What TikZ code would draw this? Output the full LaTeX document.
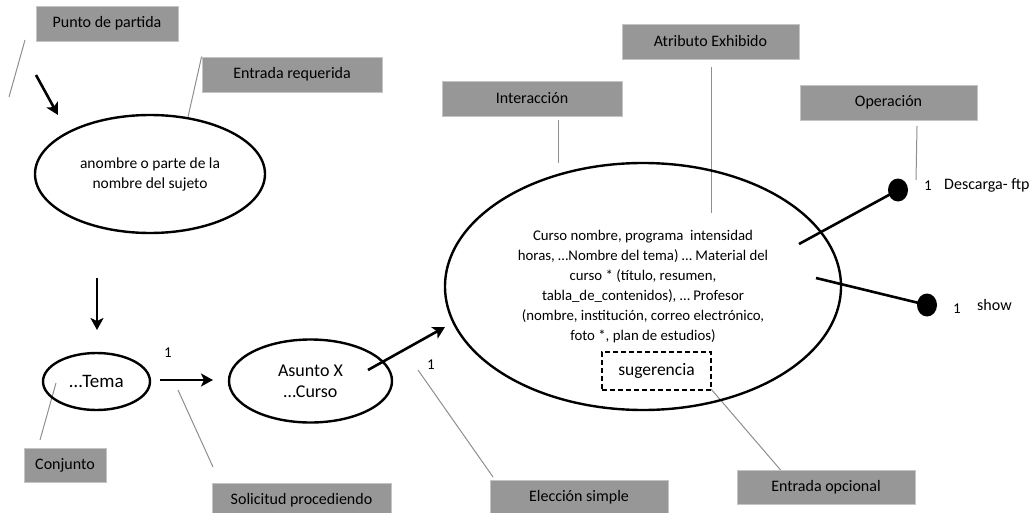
\documentclass[tikz,border=0pt]{standalone}
\usepackage{fontspec}
\setmainfont{Carlito}
\usetikzlibrary{shapes.geometric,arrows.meta}
\definecolor{labelgray}{HTML}{979797}
\definecolor{labeledge}{HTML}{C4C4C4}
\definecolor{leader}{HTML}{8E8E8E}
\tikzset{
  tag/.style={rectangle, fill=labelgray, draw=labeledge, line width=0.8pt,
    minimum height=35pt, inner sep=0pt, text=black,
    font=\fontsize{16}{18}\selectfont},
  bubble/.style={ellipse, draw=black, line width=2.4pt, inner sep=0pt, align=center},
  leaderline/.style={draw=leader, line width=1pt},
  flow/.style={draw=black, line width=2.6pt, -{Stealth[length=12pt,width=13pt,inset=3pt]}},
  link/.style={draw=black, line width=2.6pt},
  dot/.style={ellipse, fill=black, minimum width=20pt, minimum height=23pt, inner sep=0pt},
  num/.style={font=\fontsize{15}{17}\selectfont, inner sep=0pt},
  side/.style={font=\fontsize{16}{18}\selectfont, inner sep=0pt, anchor=west},
}
\begin{document}
\begin{tikzpicture}[x=1pt,y=-1pt]
\useasboundingbox (0,0) rectangle (1032,513);

% label boxes
\node[tag, minimum width=142pt] (punto)   at (107,23.5)  {Punto de partida};
\node[tag, minimum width=180pt] (entreq)  at (292,74.5)  {Entrada requerida};
\node[tag, minimum width=177pt] (atrib)   at (710.5,41.5) {Atributo Exhibido};
\node[tag, minimum width=180pt] (interac) at (532,98.5)  {Interacción};
\node[tag, minimum width=177pt] (operac)  at (888.5,102.5) {Operación};
\node[tag, minimum width=82pt, minimum height=34pt]  (conj)   at (65,465)    {Conjunto};
\node[tag, minimum width=179pt, minimum height=34pt] (solic)  at (301.5,500) {Solicitud procediendo};
\node[tag, minimum width=178pt, minimum height=34pt] (elecc)  at (579,497)   {Elección simple};

% leader line points
\coordinate (pa) at (9,97);     \coordinate (pb) at (25,40);
\coordinate (ra) at (188,117);
\coordinate (ia) at (558,120);  \coordinate (ib) at (558,163);
\coordinate (aa) at (711,67);   \coordinate (ab) at (711,213);
\coordinate (oa) at (917,126);  \coordinate (ob) at (916,180);
\coordinate (ca) at (56,383);   \coordinate (cb) at (40,440);
\coordinate (sa) at (178,390);  \coordinate (sb) at (213,467);
\coordinate (ea) at (418,370);  \coordinate (eb) at (493,477);
\coordinate (qa) at (711,389);  \coordinate (qb) at (784,474);

\draw[leaderline] (pa) -- (pb);
\draw[leaderline] (entreq.north west) -- (ra);
\draw[leaderline] (ia) -- (ib);
\draw[leaderline] (aa) -- (ab);
\draw[leaderline] (oa) -- (ob);
\draw[leaderline] (ca) -- (cb);
\draw[leaderline] (sa) -- (sb);
\draw[leaderline] (ea) -- (eb);
\draw[leaderline] (qa) -- (qb);

\node[tag, minimum width=178pt, minimum height=34pt] (entopc) at (826,487) {Entrada opcional};

% ellipses
\node[bubble, minimum width=230pt, minimum height=118pt,
      font=\fontsize{15.5}{20}\selectfont] (sujeto) at (150,174)
  {anombre o parte de la\\nombre del sujeto};
\node[bubble, minimum width=107pt, minimum height=57pt,
      font=\fontsize{19}{22}\selectfont] (tema) at (96.5,381.5) {\dots Tema};
\node[bubble, minimum width=163pt, minimum height=83pt,
      font=\fontsize{18}{21}\selectfont] (asunto) at (310.5,381) {Asunto X\\\dots Curso};
\node[bubble, minimum width=396pt, minimum height=247pt,
      font=\fontsize{14.8}{20}\selectfont] (curso) at (643,286.5)
  {Curso nombre, programa\ \ intensidad\\
   horas, \dots Nombre del tema) \dots\ Material del\\
   curso * (título, resumen,\\
   tabla\_de\_contenidos), \dots\ Profesor\\
   (nombre, institución, correo electrónico,\\
   foto *, plan de estudios)};
\node[rectangle, draw=black, line width=2pt, dash pattern=on 5pt off 3pt,
      minimum width=109pt, minimum height=38pt, inner sep=0pt,
      font=\fontsize{17.5}{19}\selectfont] (suger) at (656.5,371) {sugerencia};

% flow arrows
\coordinate (f1a) at (36,75);   \coordinate (f1b) at (58,115);
\coordinate (f2a) at (97,278);  \coordinate (f2b) at (97,330);
\coordinate (f3a) at (160,380); \coordinate (f3b) at (213,380);
\coordinate (f4a) at (368,370); \coordinate (f4b) at (445,327);
\draw[flow] (f1a) -- (f1b);
\draw[flow] (f2a) -- (f2b);
\draw[flow] (f3a) -- (f3b);
\draw[flow] (f4a) -- (f4b);

% operations
\node[dot] (ftp)  at (898,190) {};
\node[dot] (show) at (927,305) {};
\coordinate (la) at (799,244);
\coordinate (lb) at (816,278);
\draw[link] (la) -- (ftp.center);
\draw[link] (lb) -- (show.center);

% multiplicities and operation names
\node[num] (n1) at (168,353) {1};
\node[num] (n2) at (431,365) {1};
\node[num] (n3) at (928,186) {1};
\node[num] (n4) at (957,309) {1};
\node[side] (tftp)  at (944,185) {Descarga- ftp};
\node[side] (tshow) at (977,305) {show};
\end{tikzpicture}
\end{document}
